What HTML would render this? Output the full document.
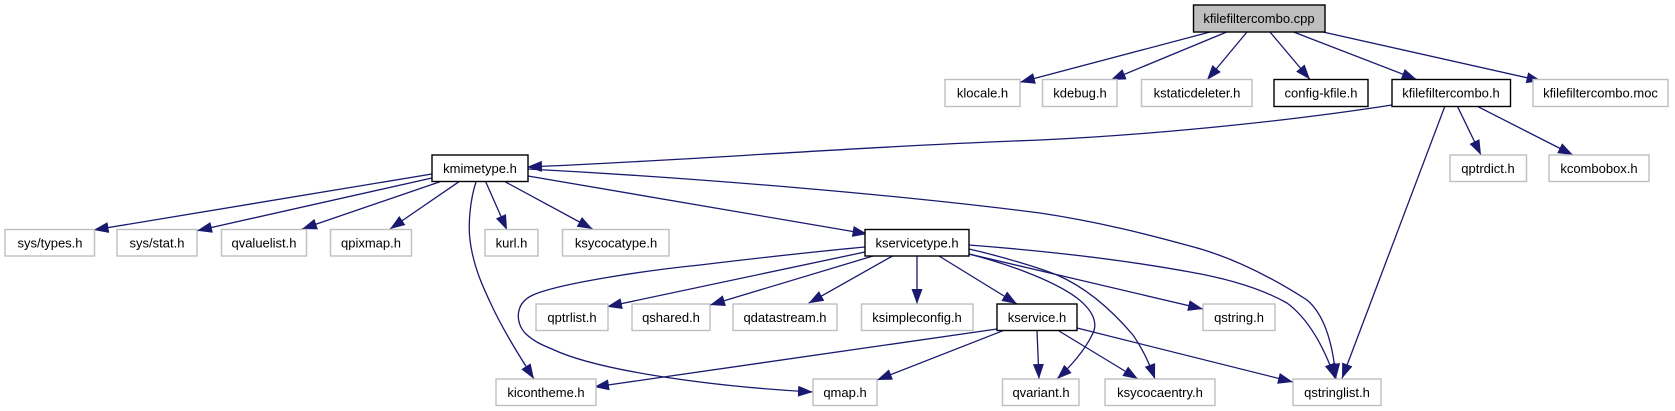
<!DOCTYPE html>
<html><head><meta charset="utf-8"><style>
html,body{margin:0;padding:0;background:#fff;width:1675px;height:411px;overflow:hidden}
svg{display:block}
text{font-family:"Liberation Sans",sans-serif;font-size:13px;fill:#000;text-anchor:middle}
.g{fill:#fff;stroke:#bfbfbf;stroke-width:1.4}
.b{fill:#fff;stroke:#000;stroke-width:1.4}
.e{fill:none;stroke:#191970;stroke-width:1.3}
</style></head><body>
<svg width="1675" height="411" viewBox="0 0 1675 411" xmlns="http://www.w3.org/2000/svg">
<defs><marker id="a" markerUnits="userSpaceOnUse" markerWidth="16" markerHeight="12" refX="15" refY="5.5" orient="auto"><path d="M0,0L15,5.5L0,11z" fill="#191970"/></marker></defs>
<path class="e" marker-end="url(#a)" d="M1210,32L1020,82.3"/>
<path class="e" marker-end="url(#a)" d="M1226.7,32L1110.7,80"/>
<path class="e" marker-end="url(#a)" d="M1247,32L1207,80"/>
<path class="e" marker-end="url(#a)" d="M1270,32L1310,79.5"/>
<path class="e" marker-end="url(#a)" d="M1293.6,32L1416.7,79.5"/>
<path class="e" marker-end="url(#a)" d="M1323,32L1541.5,81"/>
<path class="e" marker-end="url(#a)" d="M1392,105C1270,124 1130,136 1040,140C850,147 680,161 527,167"/>
<path class="e" marker-end="url(#a)" d="M1444.7,106.7L1342,378.5"/>
<path class="e" marker-end="url(#a)" d="M1457.6,106.7L1481,155"/>
<path class="e" marker-end="url(#a)" d="M1478,106.7L1573,155"/>
<path class="e" marker-end="url(#a)" d="M432,174L93.6,230"/>
<path class="e" marker-end="url(#a)" d="M432,178L197,230.7"/>
<path class="e" marker-end="url(#a)" d="M440,181.7L302,229"/>
<path class="e" marker-end="url(#a)" d="M459,181.7L390,229"/>
<path class="e" marker-end="url(#a)" d="M485.7,181.7L507,230"/>
<path class="e" marker-end="url(#a)" d="M505,181.7L592.5,229"/>
<path class="e" marker-end="url(#a)" d="M528,176L867.5,234"/>
<path class="e" marker-end="url(#a)" d="M528,169C700,178 900,195 1040,213C1100,222 1150,235 1190,246C1225,255 1265,273 1307,300C1325,315 1333,345 1336,378.5"/>
<path class="e" marker-end="url(#a)" d="M476,182C470,200 468,225 470,240C473,265 482,285 491,304C503,330 520,357 534,379"/>
<path class="e" marker-end="url(#a)" d="M865,252L607,306.7"/>
<path class="e" marker-end="url(#a)" d="M865,247C800,253 750,259 700,265C650,270 560,283 533,295C515,303 515,322 525,333C533,341 542,345 552,349C600,372 720,387 813,392"/>
<path class="e" marker-end="url(#a)" d="M873,256L710,305"/>
<path class="e" marker-end="url(#a)" d="M892.5,256L808.6,303.3"/>
<path class="e" marker-end="url(#a)" d="M917,256L917,304"/>
<path class="e" marker-end="url(#a)" d="M939,256L1017,304"/>
<path class="e" marker-end="url(#a)" d="M969,254L1203,309"/>
<path class="e" marker-end="url(#a)" d="M969,249C1000,256 1040,268 1057,275C1085,287 1110,308 1133,335C1142,348 1150,365 1155,379"/>
<path class="e" marker-end="url(#a)" d="M969,254C1000,262 1050,278 1077,298C1095,312 1098,325 1092,335C1085,350 1070,367 1057,379"/>
<path class="e" marker-end="url(#a)" d="M969,245C1060,252 1130,261 1190,272C1230,279 1262,289 1287,303C1310,320 1325,350 1335,378.5"/>
<path class="e" marker-end="url(#a)" d="M997,329L594,387"/>
<path class="e" marker-end="url(#a)" d="M1003,330.7L877,380"/>
<path class="e" marker-end="url(#a)" d="M1037,330.7L1039,379"/>
<path class="e" marker-end="url(#a)" d="M1059,331L1138,379"/>
<path class="e" marker-end="url(#a)" d="M1077,328L1293,382"/>
<rect x="1193.5" y="5" width="131.5" height="27" fill="#bfbfbf" stroke="#000" stroke-width="1.4"/><text x="1259" y="23">kfilefiltercombo.cpp</text>
<rect class="g" x="945" y="79.5" width="75" height="27"/><text x="982.5" y="97.5">klocale.h</text>
<rect class="g" x="1042.5" y="79.5" width="74.5" height="27"/><text x="1080" y="97.5">kdebug.h</text>
<rect class="g" x="1141.5" y="79.5" width="110.5" height="27"/><text x="1197" y="97.5">kstaticdeleter.h</text>
<rect class="b" x="1274" y="79.5" width="94" height="27"/><text x="1321" y="97.5">config-kfile.h</text>
<rect class="b" x="1392" y="79.5" width="118.5" height="27"/><text x="1451" y="97.5">kfilefiltercombo.h</text>
<rect class="g" x="1533" y="79.5" width="135" height="27"/><text x="1600.5" y="97.5">kfilefiltercombo.moc</text>
<rect class="b" x="432" y="155" width="96" height="26.5"/><text x="480" y="173">kmimetype.h</text>
<rect class="g" x="1450" y="155" width="76.5" height="26.5"/><text x="1488" y="173">qptrdict.h</text>
<rect class="g" x="1549" y="155" width="100" height="26.5"/><text x="1599" y="173">kcombobox.h</text>
<rect class="g" x="5" y="229.5" width="89.5" height="26.5"/><text x="50" y="247.5">sys/types.h</text>
<rect class="g" x="117" y="229.5" width="80" height="26.5"/><text x="157" y="247.5">sys/stat.h</text>
<rect class="g" x="221.5" y="229.5" width="85" height="26.5"/><text x="264" y="247.5">qvaluelist.h</text>
<rect class="g" x="330.5" y="229.5" width="81" height="26.5"/><text x="371" y="247.5">qpixmap.h</text>
<rect class="g" x="485" y="229.5" width="53" height="26.5"/><text x="511.5" y="247.5">kurl.h</text>
<rect class="g" x="562.5" y="229.5" width="106.5" height="26.5"/><text x="616" y="247.5">ksycocatype.h</text>
<rect class="b" x="865" y="229.5" width="104" height="26.5"/><text x="917" y="247.5">kservicetype.h</text>
<rect class="g" x="536" y="304" width="72" height="26.5"/><text x="572" y="322">qptrlist.h</text>
<rect class="g" x="632" y="304" width="78" height="26.5"/><text x="671" y="322">qshared.h</text>
<rect class="g" x="733" y="304" width="104" height="26.5"/><text x="785" y="322">qdatastream.h</text>
<rect class="g" x="861.5" y="304" width="111.5" height="26.5"/><text x="917" y="322">ksimpleconfig.h</text>
<rect class="b" x="997" y="304" width="80" height="26.5"/><text x="1037" y="322">kservice.h</text>
<rect class="g" x="1203" y="304" width="72" height="26.5"/><text x="1239" y="322">qstring.h</text>
<rect class="g" x="496" y="379" width="100" height="26.5"/><text x="546" y="397">kicontheme.h</text>
<rect class="g" x="813" y="379" width="64" height="26.5"/><text x="845" y="397">qmap.h</text>
<rect class="g" x="1002.5" y="379" width="76.5" height="26.5"/><text x="1041" y="397">qvariant.h</text>
<rect class="g" x="1105" y="379" width="110" height="26.5"/><text x="1160" y="397">ksycocaentry.h</text>
<rect class="g" x="1293" y="379" width="88" height="26.5"/><text x="1337" y="397">qstringlist.h</text>
</svg>
</body></html>
